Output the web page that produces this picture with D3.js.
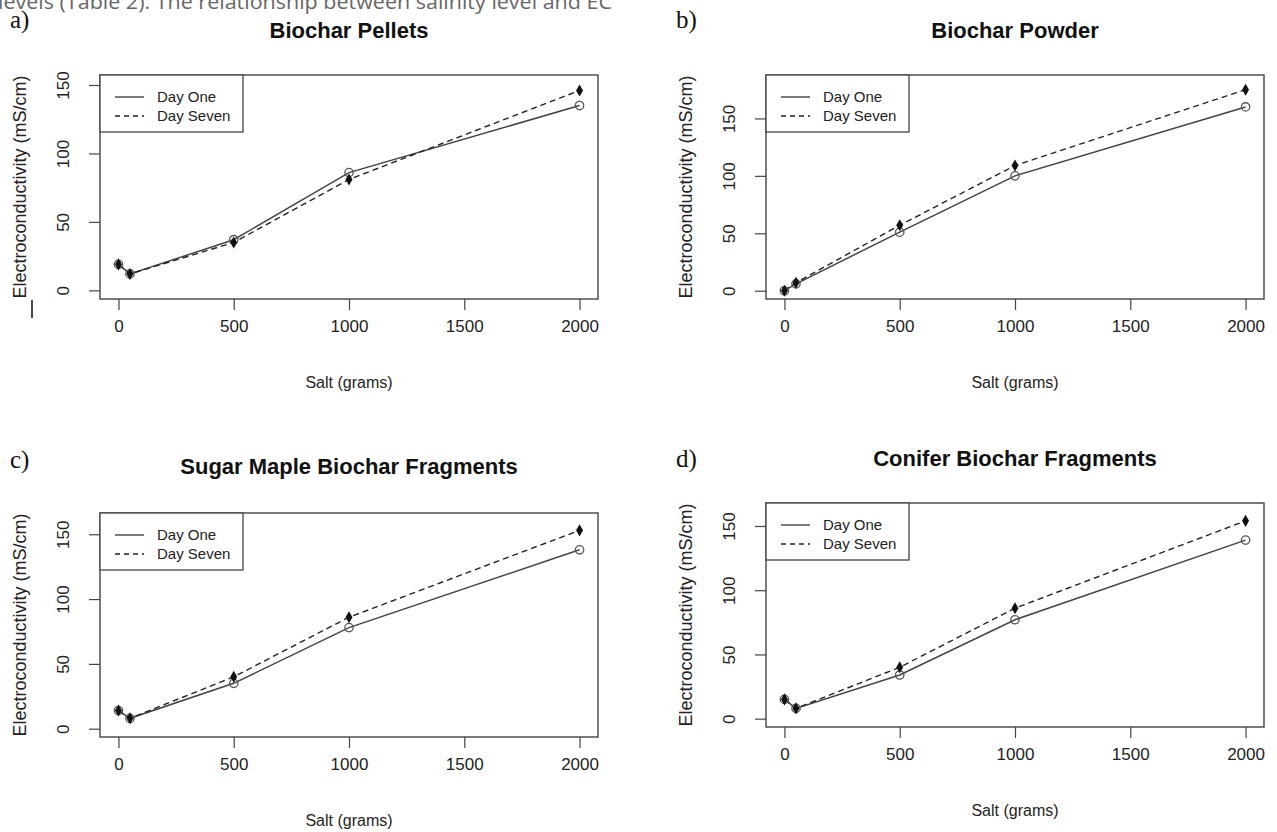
<!DOCTYPE html>
<html>
<head>
<meta charset="utf-8">
<script src="https://cdn.jsdelivr.net/npm/d3@7"></script>
<style>
  body { margin: 0; background: #fff; }
  svg { display: block; }
  text { font-family: "Liberation Sans", Arial, sans-serif; }
</style>
</head>
<body>
<div id="chart"></div>
<script>
// salt added (grams), shared by all four panels
const saltGrams = [0, 50, 500, 1000, 2000];
const xTicks = [0, 500, 1000, 1500, 2000];
const yTicks = [0, 50, 100, 150];
const legendLabels = ['Day One', 'Day Seven'];

const panelLetters = ['a)', 'b)', 'c)', 'd)'];
const panelTitles = [
  'Biochar Pellets',
  'Biochar Powder',
  'Sugar Maple Biochar Fragments',
  'Conifer Biochar Fragments'
];

// electroconductivity (mS/cm)
const pelletsDayOne = [19, 12, 37, 86, 135];
const pelletsDaySeven = [19, 12, 35, 81, 146];
const powderDayOne = [0, 6, 51, 100, 160];
const powderDaySeven = [0, 7, 57, 109, 175];
const mapleDayOne = [14, 8, 35, 78, 138];
const mapleDaySeven = [14, 8, 40, 86, 153];
const coniferDayOne = [15, 8, 34, 77, 139];
const coniferDaySeven = [15, 8, 40, 86, 154];

const dayOneSeries = [pelletsDayOne, powderDayOne, mapleDayOne, coniferDayOne];
const daySevenSeries = [pelletsDaySeven, powderDaySeven, mapleDaySeven, coniferDaySeven];

const width = 1277;
const height = 832;

// plot frames (R style, 4% padding on each axis)
const frames = [
  { left: 100, right: 598, top: 75, bottom: 299, yDomain: [-6.3, 157.3], labelX: 10, labelY: 28, titleY: 38 },
  { left: 766, right: 1264, top: 75, bottom: 299, yDomain: [-7.2, 187.8], labelX: 676, labelY: 28, titleY: 38 },
  { left: 100, right: 598, top: 513, bottom: 737, yDomain: [-6.4, 166.4], labelX: 10, labelY: 468, titleY: 474 },
  { left: 766, right: 1264, top: 503, bottom: 727, yDomain: [-6.5, 167.9], labelX: 676, labelY: 467, titleY: 466 }
];

const svg = d3.select('#chart')
  .append('svg')
  .attr('width', width)
  .attr('height', height);

// cut-off line of body text at the very top of the page
svg.append('text')
  .attr('x', -2)
  .attr('y', 9)
  .attr('fill', '#666')
  .attr('font-size', 20)
  .style('font-family', '"Open Sans", sans-serif')
  .attr('textLength', 614)
  .attr('lengthAdjust', 'spacingAndGlyphs')
  .text('levels (Table 2). The relationship between salinity level and EC');

const drawPanel = (i) => {
  const f = frames[i];

  const x = d3.scaleLinear()
    .domain([-80, 2080])
    .range([f.left, f.right]);

  const y = d3.scaleLinear()
    .domain(f.yDomain)
    .range([f.bottom, f.top]);

  const g = svg.append('g');

  // x axis
  const xAxis = g.append('g')
    .attr('transform', `translate(0,${f.bottom})`)
    .call(d3.axisBottom(x).tickValues(xTicks).tickSize(11).tickPadding(10).tickFormat(d3.format('d')));
  xAxis.select('.domain').remove();
  xAxis.selectAll('line').attr('stroke', '#444').attr('stroke-width', 1.2);
  xAxis.selectAll('text')
    .attr('fill', '#222')
    .attr('font-size', 17)
    .style('font-family', '"Liberation Sans", Arial, sans-serif');

  // y axis, labels parallel to the axis
  const yAxis = g.append('g')
    .attr('transform', `translate(${f.left},0)`)
    .call(d3.axisLeft(y).tickValues(yTicks).tickSize(11));
  yAxis.select('.domain').remove();
  yAxis.selectAll('line').attr('stroke', '#444').attr('stroke-width', 1.2);
  yAxis.selectAll('text')
    .attr('x', null)
    .attr('dy', null)
    .attr('text-anchor', 'middle')
    .attr('transform', 'translate(-31,0) rotate(-90)')
    .attr('fill', '#222')
    .attr('font-size', 17)
    .style('font-family', '"Liberation Sans", Arial, sans-serif');

  // frame
  g.append('rect')
    .attr('x', f.left)
    .attr('y', f.top)
    .attr('width', f.right - f.left)
    .attr('height', f.bottom - f.top)
    .attr('fill', 'none')
    .attr('stroke', '#444')
    .attr('stroke-width', 1.4);

  // axis titles
  g.append('text')
    .attr('x', (f.left + f.right) / 2)
    .attr('y', f.bottom + 89)
    .attr('text-anchor', 'middle')
    .attr('font-size', 16)
    .attr('fill', '#222')
    .text('Salt (grams)');

  g.append('text')
    .attr('transform', `translate(${f.left - 74},${(f.top + f.bottom) / 2}) rotate(-90)`)
    .attr('text-anchor', 'middle')
    .attr('font-size', 18)
    .attr('fill', '#222')
    .text('Electroconductivity (mS/cm)');

  // title and panel letter
  g.append('text')
    .attr('x', (f.left + f.right) / 2)
    .attr('y', f.titleY)
    .attr('text-anchor', 'middle')
    .attr('font-size', 22)
    .attr('font-weight', 'bold')
    .attr('fill', '#111')
    .text(panelTitles[i]);

  g.append('text')
    .attr('x', f.labelX)
    .attr('y', f.labelY)
    .attr('font-size', 25)
    .attr('fill', '#111')
    .style('font-family', '"Liberation Serif", "Times New Roman", serif')
    .text(panelLetters[i]);

  const line = d3.line()
    .x((d, k) => x(saltGrams[k]))
    .y(d => y(d));

  // Day One: solid line, open circles
  g.append('path')
    .datum(dayOneSeries[i])
    .attr('d', line)
    .attr('fill', 'none')
    .attr('stroke', '#444')
    .attr('stroke-width', 1.5);

  // Day Seven: dashed line, filled diamonds
  g.append('path')
    .datum(daySevenSeries[i])
    .attr('d', line)
    .attr('fill', 'none')
    .attr('stroke', '#222')
    .attr('stroke-width', 1.4)
    .attr('stroke-dasharray', '6,4');

  g.selectAll('circle.one')
    .data(dayOneSeries[i])
    .join('circle')
    .attr('class', 'one')
    .attr('cx', (d, k) => x(saltGrams[k]))
    .attr('cy', d => y(d))
    .attr('r', 4.2)
    .attr('fill', 'none')
    .attr('stroke', '#555')
    .attr('stroke-width', 1.3);

  g.selectAll('path.seven')
    .data(daySevenSeries[i])
    .join('path')
    .attr('class', 'seven')
    .attr('d', d3.symbol().type(d3.symbolDiamond).size(42))
    .attr('transform', (d, k) => `translate(${x(saltGrams[k])},${y(d)})`)
    .attr('fill', '#111');

  // legend, top-left corner of the frame
  const legend = g.append('g')
    .attr('transform', `translate(${f.left},${f.top})`);

  legend.append('rect')
    .attr('width', 143)
    .attr('height', 57)
    .attr('fill', '#fff')
    .attr('stroke', '#444')
    .attr('stroke-width', 1.3);

  legendLabels.forEach((lab, k) => {
    const ly = 22 + k * 19;
    legend.append('line')
      .attr('x1', 15)
      .attr('x2', 44)
      .attr('y1', ly)
      .attr('y2', ly)
      .attr('stroke', k === 0 ? '#444' : '#222')
      .attr('stroke-width', 1.4)
      .attr('stroke-dasharray', k === 0 ? null : '5,4');
    legend.append('text')
      .attr('x', 57)
      .attr('y', ly + 5)
      .attr('font-size', 15)
      .attr('fill', '#222')
      .text(lab);
  });
};

d3.range(4).forEach(drawPanel);

// stray underline mark left of panel a
svg.append('line')
  .attr('x1', 32)
  .attr('x2', 32)
  .attr('y1', 300)
  .attr('y2', 318)
  .attr('stroke', '#111')
  .attr('stroke-width', 1.5);
</script>
</body>
</html>
